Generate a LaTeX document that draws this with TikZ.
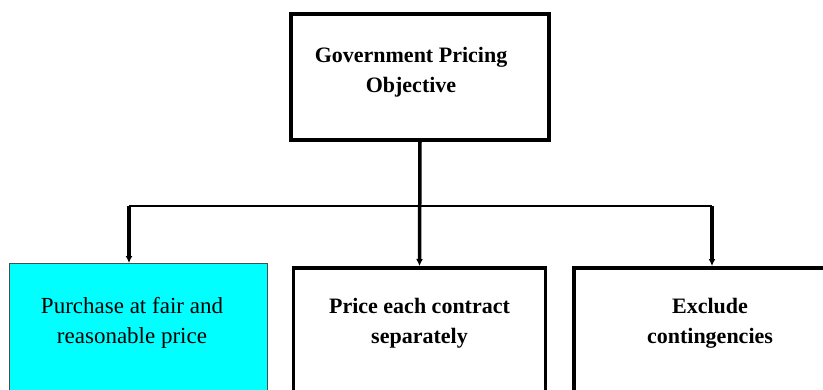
\documentclass[tikz,border=0pt]{standalone}
\usepackage{fontspec}
\setmainfont{Liberation Serif}
\usetikzlibrary{arrows.meta}
\definecolor{aqua}{RGB}{0,255,255}

\begin{document}
\begin{tikzpicture}[x=1pt,y=-1pt,
  box/.style={draw=black,line width=3.5pt,fill=white,minimum width=252pt,minimum height=150pt,anchor=north},
  lbl/.style={align=center,font=\fontsize{22}{30}\selectfont\bfseries,anchor=north},
  wire/.style={line width=2.5pt},
  feed/.style={line width=3.5pt,-{Latex[length=7pt,width=7pt]}}]

\useasboundingbox (0,0) rectangle (823,389);
\clip (0,0) rectangle (823,389);

% top box
\node[box,minimum width=258pt,minimum height=126pt] (gov) at (420,12) {};
\node[lbl] (govtxt) at (411,44) {Government Pricing\\Objective};

% bottom boxes
\node[box,fill=aqua,draw=black!70,line width=1pt,minimum width=258pt] (fair) at (138.5,263) {};
\node[box] (each) at (419.5,266) {};
\node[box,minimum width=268pt] (excl) at (708,266) {};

\node[lbl,font=\fontsize{23}{30}\selectfont] (fairtxt) at (132,294) {Purchase at fair and\\reasonable price};
\node[lbl] (eachtxt) at (each.north) [yshift=-29pt] {Price each contract\\separately};
\node[lbl] (excltxt) at (710,295) {Exclude\\contingencies};

% connectors
\coordinate (L) at (129,206);
\coordinate (R) at (712,206);

\draw[wire] (L) -- (R);
\draw[feed] (gov.south) -- (each.north);
\draw[feed] (L) -- (L |- fair.north);
\draw[feed] (R) -- (R |- excl.north);

\end{tikzpicture}
\end{document}
